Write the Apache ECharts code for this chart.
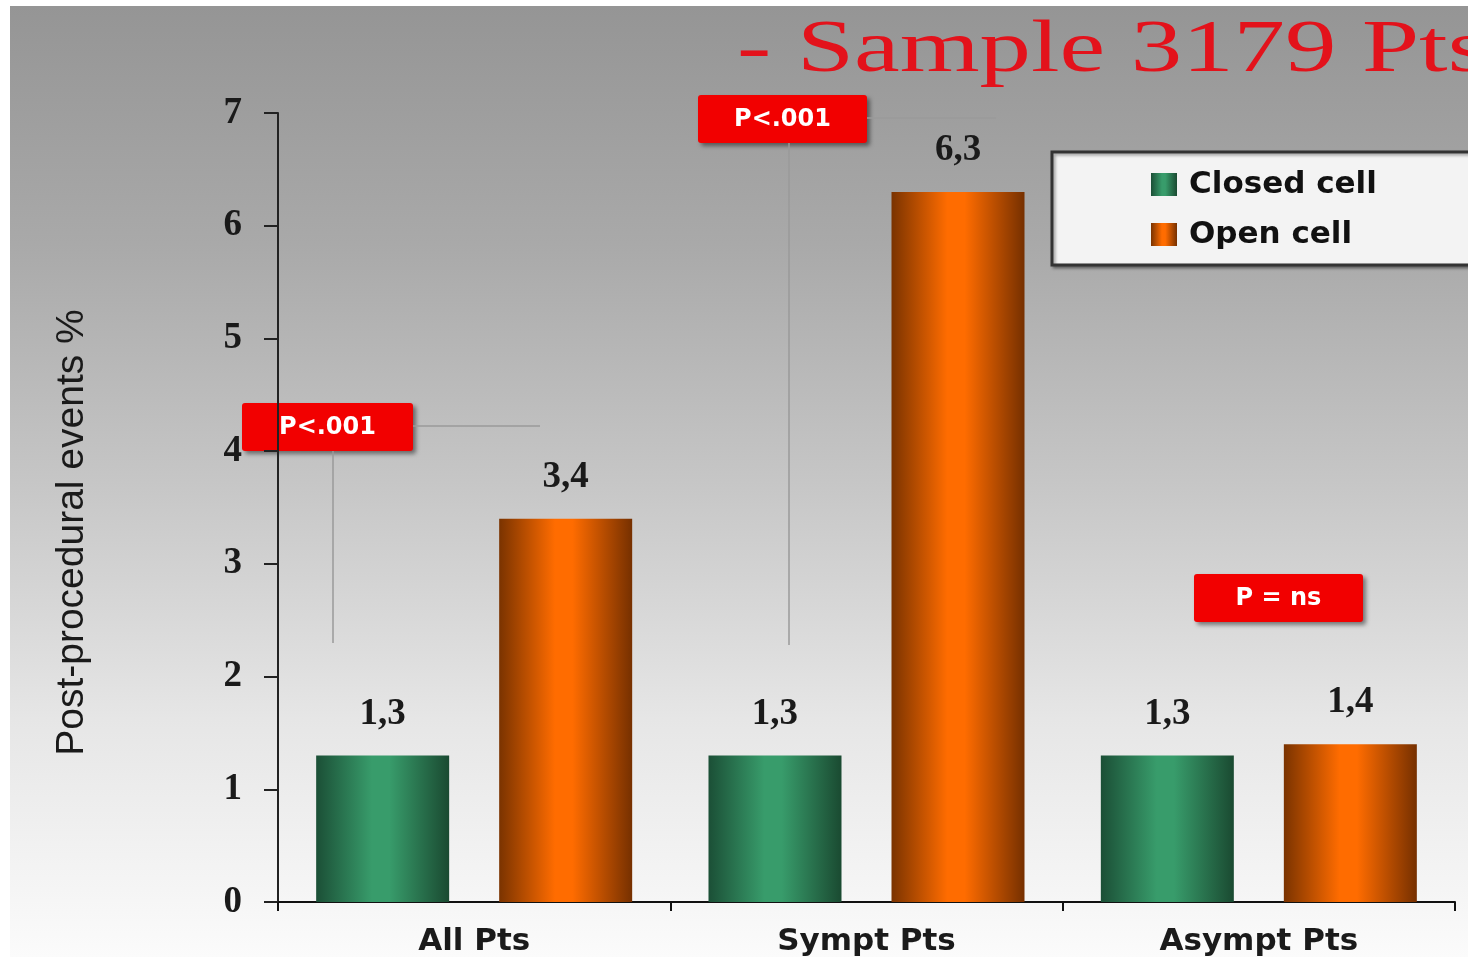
<!DOCTYPE html>
<html>
<head>
<meta charset="utf-8">
<title>Post-procedural events</title>
<script src="https://cdn.jsdelivr.net/npm/echarts@6/dist/echarts.min.js"></script>
<style>
  html, body { margin: 0; padding: 0; background: #ffffff; }
  #chart { width: 1468px; height: 957px; }
</style>
</head>
<body>
<div id="chart"></div>
<script>
// Categories and event rates (%) per stent design
const categories = ['All Pts', 'Sympt Pts', 'Asympt Pts'];
const closedCell = [1.3, 1.3, 1.3];
const openCell = [3.4, 6.3, 1.4];
const seriesNames = ['Closed cell', 'Open cell'];
const titleText = '- Sample 3179 Pts';
const yAxisName = 'Post-procedural events %';
const pLabels = ['P<.001', 'P<.001', 'P = ns'];

const SERIF = "'Liberation Serif', 'Times New Roman', serif";
const SANS = "'Liberation Sans', Arial, sans-serif";
const WIDE_SANS = "'DejaVu Sans', Verdana, sans-serif";

// Cylinder-like horizontal shading for the bars
function shade(edgeL, mid, edgeR) {
  return new echarts.graphic.LinearGradient(0, 0, 1, 0, [
    { offset: 0, color: edgeL },
    { offset: 0.42, color: mid },
    { offset: 0.55, color: mid },
    { offset: 1, color: edgeR }
  ]);
}
const greenFill = shade('#1b4f36', '#389c6b', '#1a4a31');
const orangeFill = shade('#7a3300', '#ff6c00', '#763000');

const valueLabel = {
  show: true,
  position: 'top',
  distance: 23,
  fontFamily: SERIF,
  fontWeight: 'bold',
  fontSize: 37,
  color: '#1a1a1a',
  formatter: p => String(p.value).replace('.', ',')
};

// Red significance tag with a drop shadow
function pTag(text, x, y, w, h) {
  return {
    type: 'group',
    z: 20,
    children: [
      {
        type: 'rect',
        shape: { x: x, y: y, width: w, height: h, r: 3 },
        style: {
          fill: '#f20000',
          shadowColor: 'rgba(0,0,0,0.45)',
          shadowBlur: 4,
          shadowOffsetX: 3,
          shadowOffsetY: 3
        }
      },
      {
        type: 'text',
        x: x + w / 2,
        y: y + h / 2 + 1,
        style: {
          text: text,
          fill: '#ffffff',
          font: 'bold 24px ' + WIDE_SANS,
          align: 'center',
          verticalAlign: 'middle'
        }
      }
    ]
  };
}

function thinLine(x1, y1, x2, y2) {
  return {
    type: 'line',
    z: 5,
    shape: { x1: x1, y1: y1, x2: x2, y2: y2 },
    style: { stroke: '#9a9a9a', lineWidth: 1.5 }
  };
}

const chart = echarts.init(document.getElementById('chart'));

chart.setOption({
  animation: false,
  backgroundColor: '#ffffff',
  graphic: [
    {
      type: 'rect',
      z: -10,
      shape: { x: 10, y: 6, width: 1458, height: 951 },
      style: {
        fill: new echarts.graphic.LinearGradient(0, 0, 0, 1, [
          { offset: 0, color: '#959595' },
          { offset: 0.25, color: '#a9a9a9' },
          { offset: 0.5, color: '#c6c6c6' },
          { offset: 0.75, color: '#e6e6e6' },
          { offset: 1, color: '#fbfbfb' }
        ])
      }
    },
    {
      type: 'text',
      x: 737,
      y: 51,
      scaleX: 1.37,
      z: 10,
      style: {
        text: titleText,
        fill: '#e3121b',
        font: '75px ' + SERIF,
        align: 'left',
        verticalAlign: 'middle'
      }
    },
    thinLine(333, 451, 333, 643),
    thinLine(413, 426, 540, 426),
    thinLine(789, 143, 789, 645),
    thinLine(867, 118, 996, 118),
    pTag(pLabels[0], 242, 403, 171, 48),
    pTag(pLabels[1], 698, 95, 169, 48),
    pTag(pLabels[2], 1194, 574, 169, 48)
  ],
  legend: {
    orient: 'vertical',
    left: 1052,
    top: 152,
    data: seriesNames,
    itemWidth: 26,
    itemHeight: 23,
    itemGap: 19,
    icon: 'rect',
    padding: [17, 110, 15, 99],
    backgroundColor: '#f3f3f3',
    borderColor: '#333333',
    borderWidth: 3,
    shadowColor: 'rgba(0,0,0,0.35)',
    shadowBlur: 3,
    shadowOffsetX: 2,
    shadowOffsetY: 2,
    textStyle: {
      fontFamily: WIDE_SANS,
      fontWeight: 'bold',
      fontSize: 31,
      lineHeight: 30,
      color: '#111111',
      padding: [0, 0, 0, 7]
    }
  },
  grid: {
    left: 278,
    right: 13,
    top: 113,
    bottom: 54,
    containLabel: false
  },
  xAxis: {
    type: 'category',
    data: categories,
    axisLine: { lineStyle: { color: '#111111', width: 2 } },
    axisTick: { show: true, length: 9, lineStyle: { color: '#111111', width: 2 } },
    axisLabel: {
      margin: 24,
      fontFamily: WIDE_SANS,
      fontWeight: 'bold',
      fontSize: 31,
      color: '#1a1a1a'
    }
  },
  yAxis: {
    type: 'value',
    min: 0,
    max: 7,
    interval: 1,
    name: yAxisName,
    nameLocation: 'middle',
    nameRotate: 90,
    nameGap: 186,
    nameTextStyle: {
      fontFamily: SANS,
      fontSize: 39,
      color: '#1a1a1a',
      padding: [0, 50, 0, 0]
    },
    splitLine: { show: false },
    axisLine: { show: true, lineStyle: { color: '#222222', width: 2 } },
    axisTick: { show: true, length: 14, lineStyle: { color: '#222222', width: 2 } },
    axisLabel: {
      margin: 36,
      fontFamily: SERIF,
      fontWeight: 'bold',
      fontSize: 37,
      color: '#1a1a1a'
    }
  },
  series: [
    {
      name: seriesNames[0],
      type: 'bar',
      data: closedCell,
      barWidth: 133,
      barGap: '37.6%',
      itemStyle: { color: greenFill },
      label: valueLabel
    },
    {
      name: seriesNames[1],
      type: 'bar',
      data: openCell,
      barWidth: 133,
      barGap: '37.6%',
      itemStyle: { color: orangeFill },
      label: valueLabel
    }
  ]
});
</script>
</body>
</html>
